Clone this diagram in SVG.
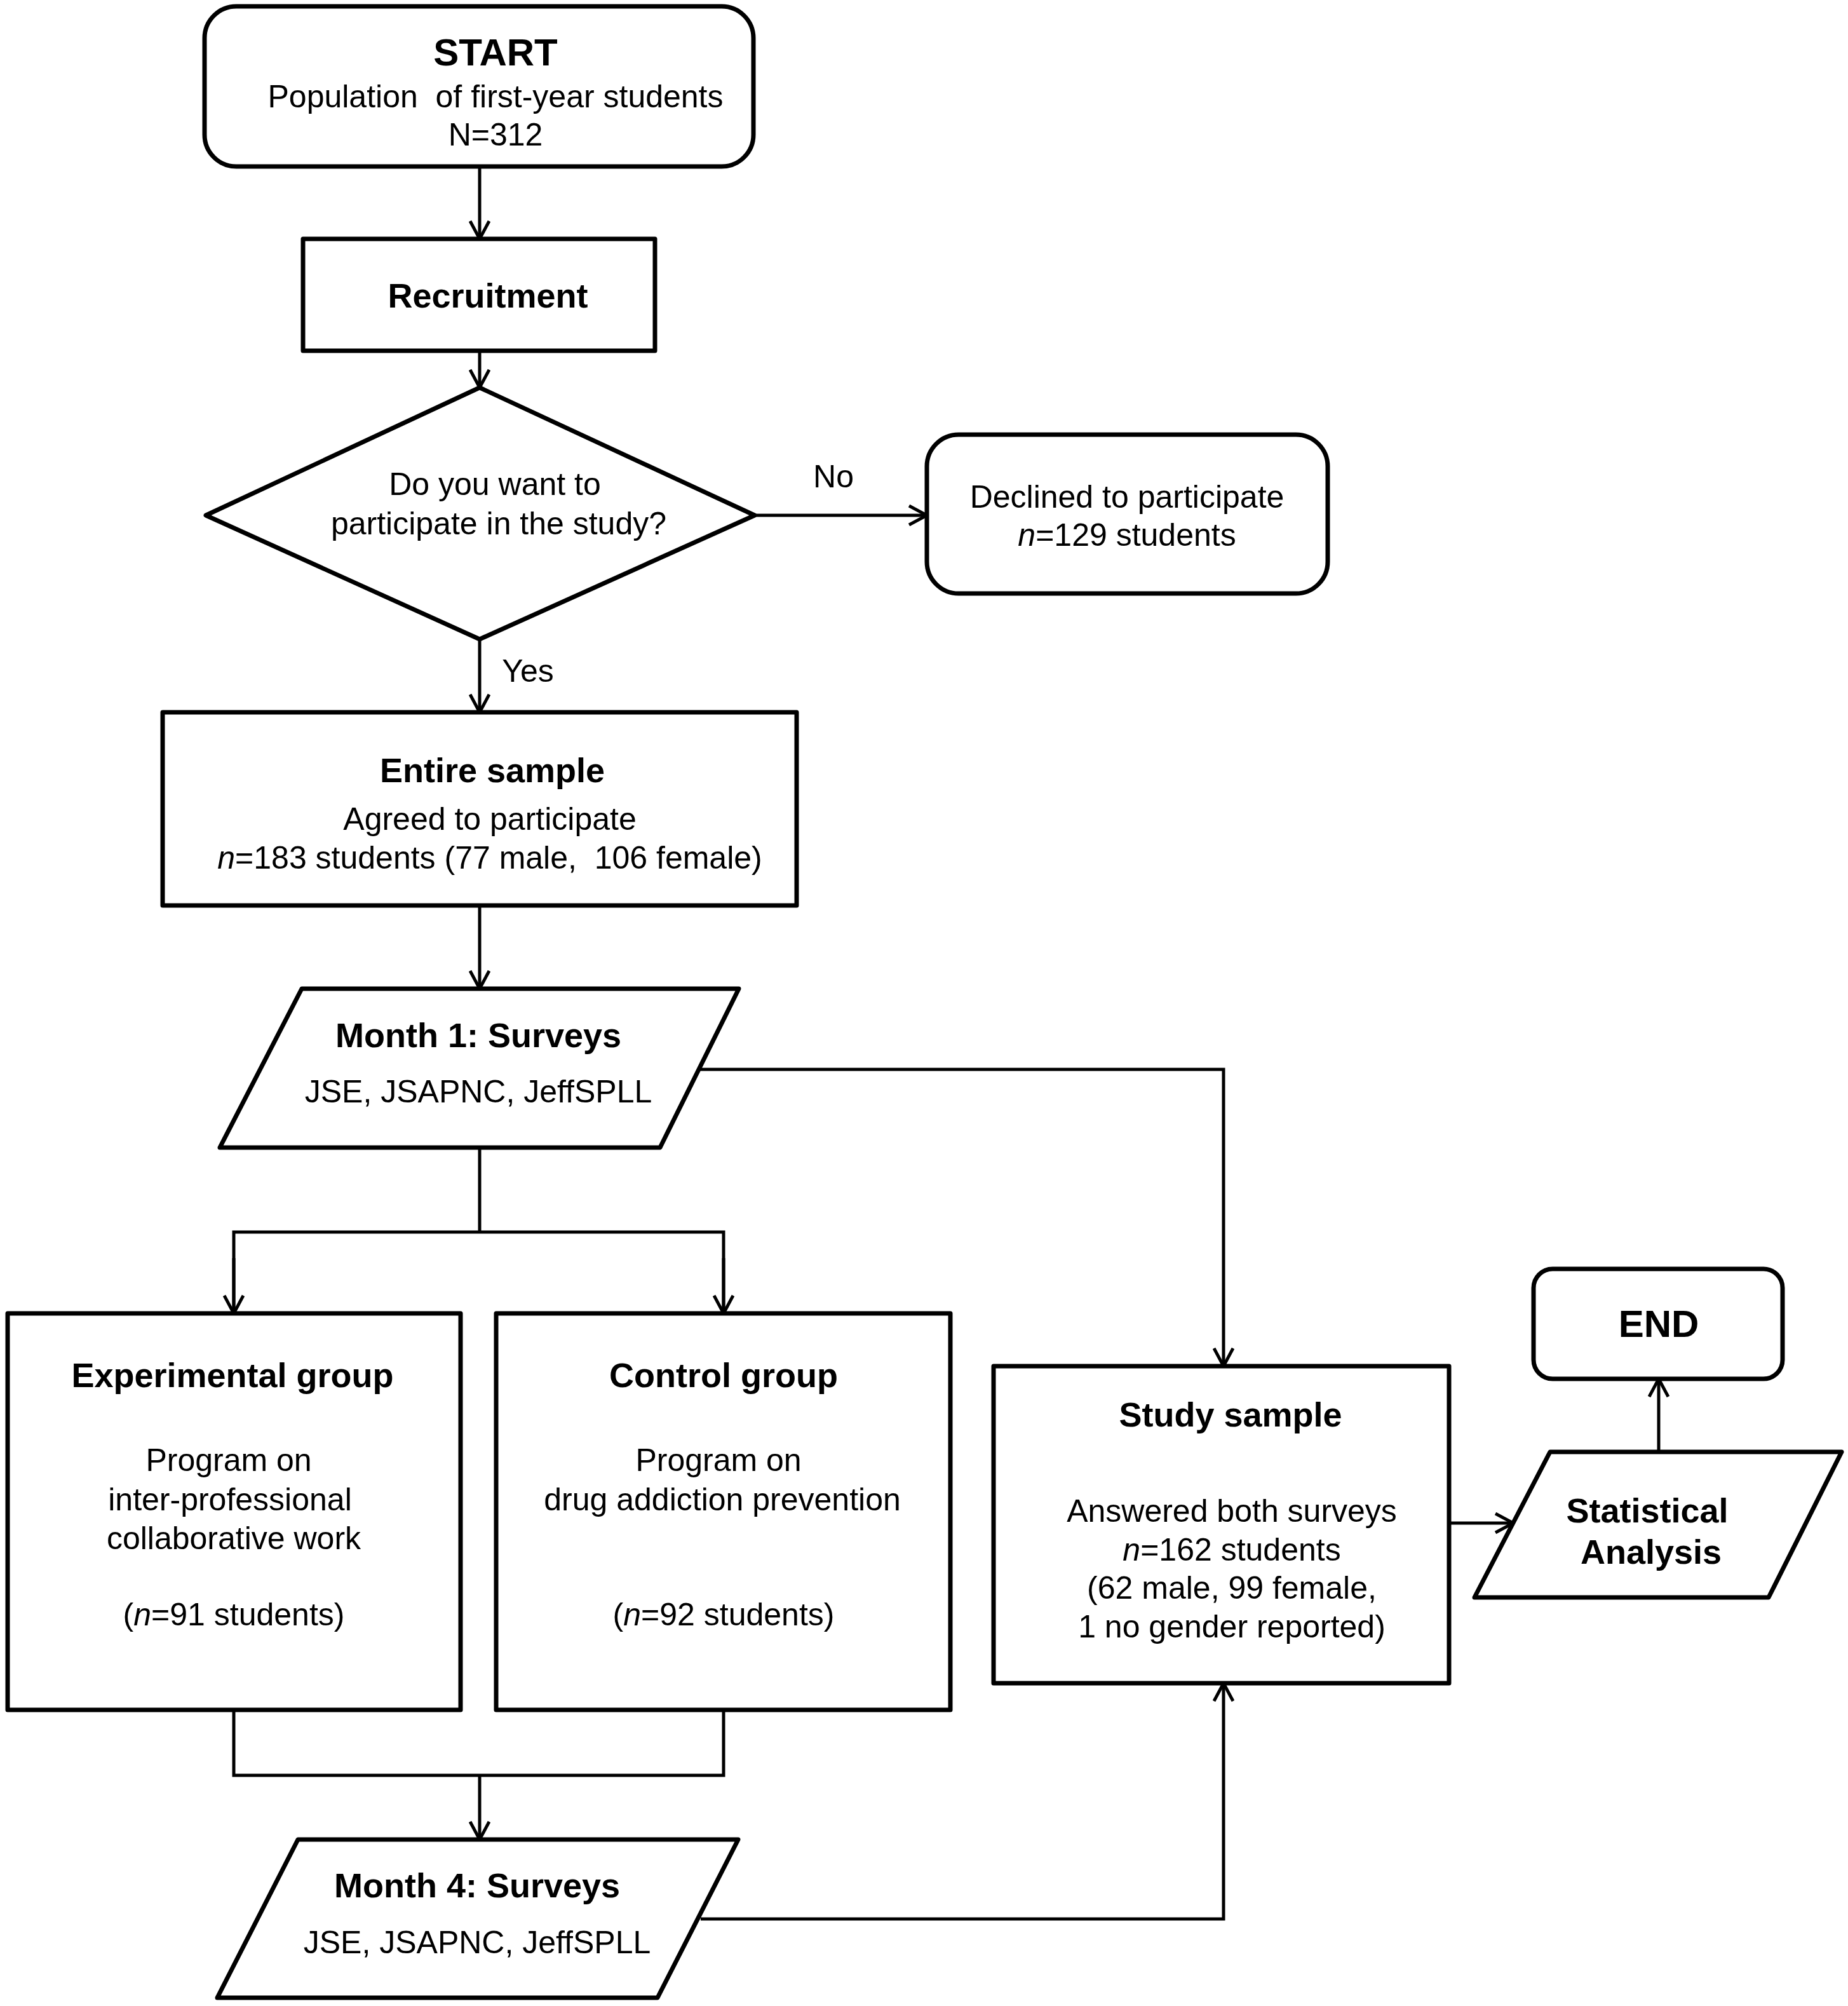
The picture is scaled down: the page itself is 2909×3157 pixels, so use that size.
<svg xmlns="http://www.w3.org/2000/svg" width="2909" height="3157" viewBox="0 0 2909 3157">
<style>
.box{fill:#fff;stroke:#000;stroke-width:7;stroke-linejoin:round}
.con{fill:none;stroke:#000;stroke-width:5}
text{font-family:"Liberation Sans",Arial,sans-serif;font-size:50px;fill:#000;text-anchor:middle}
.b{font-weight:bold;font-size:54px}
.big{font-weight:bold;font-size:60px}
.i{font-style:italic}
</style>
<defs>
<marker id="arr" viewBox="0 0 32 34" refX="30" refY="17" markerWidth="32" markerHeight="34" markerUnits="userSpaceOnUse" orient="auto">
<path d="M2,2 L30,17 L2,32" fill="none" stroke="#000" stroke-width="5"/>
</marker>
</defs>
<rect width="2909" height="3157" fill="#fff"/>
<g id="connectors">
<line class="con" x1="755" y1="262" x2="755" y2="376" marker-end="url(#arr)"/>
<line class="con" x1="755" y1="552" x2="755" y2="610" marker-end="url(#arr)"/>
<line class="con" x1="1188" y1="811" x2="1459" y2="811" marker-end="url(#arr)"/>
<line class="con" x1="755" y1="1006" x2="755" y2="1121" marker-end="url(#arr)"/>
<line class="con" x1="755" y1="1425" x2="755" y2="1556" marker-end="url(#arr)"/>
<polyline class="con" points="1100,1683 1926,1683 1926,2150" marker-end="url(#arr)"/>
<line class="con" x1="755" y1="1806" x2="755" y2="1939"/>
<polyline class="con" points="368,2067 368,1939 1139,1939 1139,2067" />
<line class="con" x1="368" y1="1980" x2="368" y2="2067" marker-end="url(#arr)"/>
<line class="con" x1="1139" y1="1980" x2="1139" y2="2067" marker-end="url(#arr)"/>
<polyline class="con" points="368,2691 368,2794 1139,2794 1139,2691"/>
<line class="con" x1="755" y1="2794" x2="755" y2="2895" marker-end="url(#arr)"/>
<polyline class="con" points="1103,3020 1926,3020 1926,2649" marker-end="url(#arr)"/>
<line class="con" x1="2281" y1="2397" x2="2382" y2="2397" marker-end="url(#arr)"/>
<line class="con" x1="2611" y1="2285" x2="2611" y2="2170" marker-end="url(#arr)"/>
</g>
<g id="start">
<rect class="box" x="322" y="10" width="864" height="252" rx="50"/>
<text class="big" x="780" y="103">START</text>
<text x="780" y="169" xml:space="preserve">Population  of first-year students</text>
<text x="780" y="229">N=312</text>
</g>
<g id="recruitment">
<rect class="box" x="477" y="376" width="554" height="176"/>
<text class="b" x="768" y="484">Recruitment</text>
</g>
<g id="decision">
<polygon class="box" points="755,610 1188,811 755,1006 324,811"/>
<text x="779" y="779">Do you want to</text>
<text x="785" y="841">participate in the study?</text>
</g>
<g id="labels">
<text x="1312" y="767">No</text>
<text x="831" y="1073">Yes</text>
</g>
<g id="declined">
<rect class="box" x="1459" y="684" width="631" height="250" rx="50"/>
<text x="1774" y="799">Declined to participate</text>
<text x="1774" y="859"><tspan class="i">n</tspan>=129 students</text>
</g>
<g id="entire">
<rect class="box" x="256" y="1121" width="998" height="304"/>
<text class="b" x="775" y="1231">Entire sample</text>
<text x="771" y="1306">Agreed to participate</text>
<text x="771" y="1367" xml:space="preserve"><tspan class="i">n</tspan>=183 students (77 male,  106 female)</text>
</g>
<g id="month1">
<polygon class="box" points="475,1556 1163,1556 1039,1806 346,1806"/>
<text class="b" x="753" y="1648">Month 1: Surveys</text>
<text x="753" y="1735">JSE, JSAPNC, JeffSPLL</text>
</g>
<g id="experimental">
<rect class="box" x="12" y="2067" width="713" height="624"/>
<text class="b" x="366" y="2183">Experimental group</text>
<text x="360" y="2315">Program on</text>
<text x="362" y="2377">inter-professional</text>
<text x="368" y="2438">collaborative work</text>
<text x="368" y="2558">(<tspan class="i">n</tspan>=91 students)</text>
</g>
<g id="control">
<rect class="box" x="781" y="2067" width="715" height="624"/>
<text class="b" x="1139" y="2183">Control group</text>
<text x="1131" y="2315">Program on</text>
<text x="1137" y="2377">drug addiction prevention</text>
<text x="1139" y="2558">(<tspan class="i">n</tspan>=92 students)</text>
</g>
<g id="month4">
<polygon class="box" points="469,2895 1162,2895 1035,3144 342,3144"/>
<text class="b" x="751" y="2986">Month 4: Surveys</text>
<text x="751" y="3074">JSE, JSAPNC, JeffSPLL</text>
</g>
<g id="study">
<rect class="box" x="1564" y="2150" width="717" height="499"/>
<text class="b" x="1937" y="2245">Study sample</text>
<text x="1939" y="2395">Answered both surveys</text>
<text x="1939" y="2456"><tspan class="i">n</tspan>=162 students</text>
<text x="1939" y="2516">(62 male, 99 female,</text>
<text x="1939" y="2577">1 no gender reported)</text>
</g>
<g id="statistical">
<polygon class="box" points="2440,2285 2899,2285 2784,2514 2321,2514"/>
<text class="b" x="2593" y="2396">Statistical</text>
<text class="b" x="2599" y="2461">Analysis</text>
</g>
<g id="end">
<rect class="box" x="2414" y="1997" width="392" height="173" rx="30"/>
<text class="big" x="2611" y="2104">END</text>
</g>
</svg>
